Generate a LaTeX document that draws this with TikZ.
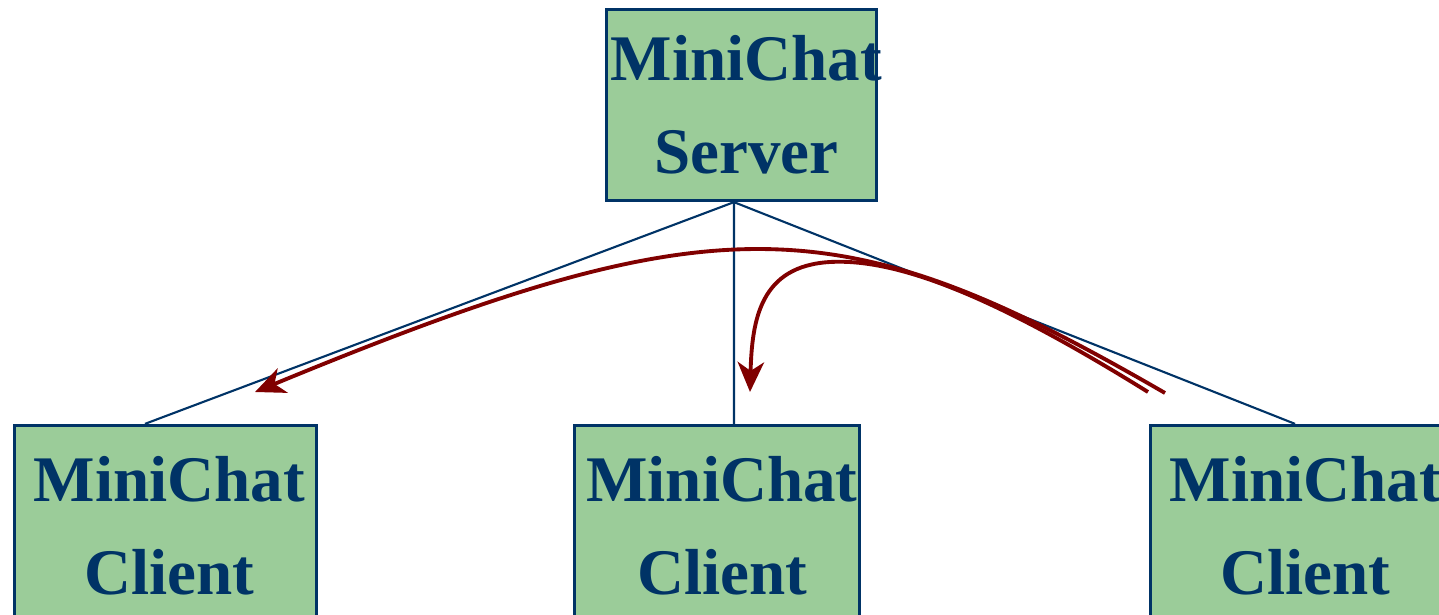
\documentclass[tikz,border=0pt]{standalone}
\usepackage{fontspec}
\setmainfont{Liberation Serif}
\usetikzlibrary{arrows.meta}
\definecolor{navy}{RGB}{0,51,102}
\definecolor{boxgreen}{RGB}{155,204,153}
\definecolor{maroon}{RGB}{128,0,0}
\begin{document}
\begin{tikzpicture}[x=0.01cm,y=-0.01cm,
  box/.style={draw=navy,fill=boxgreen,line width=0.9pt,inner sep=0pt,align=center,
    text=navy,font=\fontsize{18.5}{26.5}\selectfont\bfseries},
  link/.style={draw=navy,line width=0.6pt},
  msg/.style={draw=maroon,line width=1.1pt,-{Stealth[length=8.5pt,width=7.5pt,inset=2.5pt]}}]
\useasboundingbox (0,0) rectangle (1439,615);
\clip (0,0) rectangle (1439,615);
\node[box,minimum width=2.70cm,minimum height=1.91cm] at (741.5,105) (srv) {\makebox[2.5cm]{\hspace{0.1cm}MiniChat}\\\hspace{0.1cm}Server};
\node[box,minimum width=3.02cm,minimum height=2.00cm] at (165.5,525.5) (cl1) {\hspace{0.08cm}MiniChat\\\hspace{0.08cm}Client};
\node[box,minimum width=2.85cm,minimum height=2.00cm] at (717,525.5) (cl2) {\hspace{0.1cm}MiniChat\\\hspace{0.1cm}Client};
\node[box,minimum width=3.10cm,minimum height=2.00cm] at (1305.5,525.5) (cl3) {MiniChat\\Client};
\coordinate (hub) at ([xshift=-0.075cm]srv.south);
\draw[link] (hub) -- ([xshift=-0.205cm]cl1.north);
\draw[link] (hub) -- ([xshift=0.17cm]cl2.north);
\draw[link] (hub) -- ([xshift=-0.105cm]cl3.north);
% broadcast from the right client
\coordinate (s1) at (1165,393);\coordinate (t1) at (255,392);
\coordinate (s2) at (1148,392);\coordinate (b2) at (830,262);\coordinate (t2) at (750,392);
\draw[msg] (s1) .. controls (840,205) and (720,200) .. (t1);
\draw[msg] (s2) .. controls (1000,300) and (900,258) .. (b2) .. controls (760,266) and (752,320) .. (t2);
\end{tikzpicture}
\end{document}
